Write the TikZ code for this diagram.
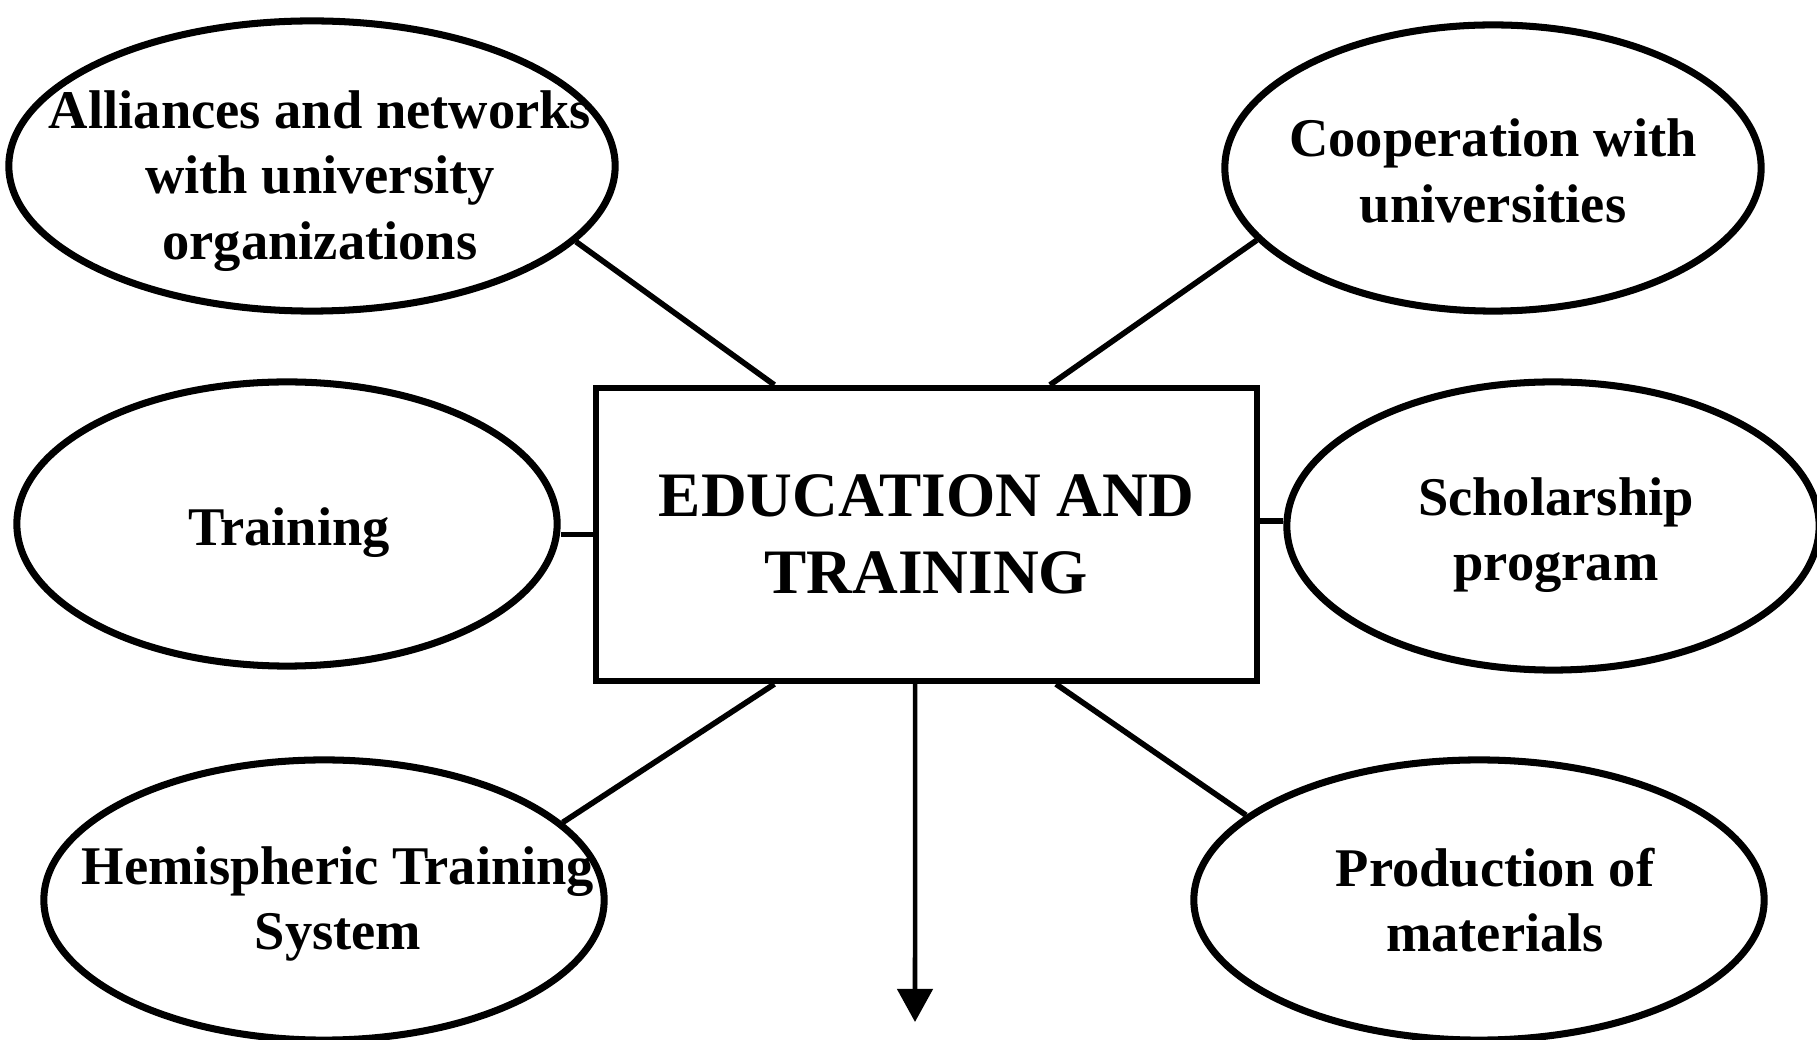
\documentclass[tikz,border=0pt]{standalone}
\usepackage{fontspec}
\setmainfont{Liberation Serif}
\usetikzlibrary{shapes.geometric,arrows.meta,calc}
\tikzset{
  bubble/.style={ellipse, draw, line width=2pt, inner sep=0pt},
  bubtext/.style={align=center, inner sep=0pt, font=\fontsize{15.5}{18.7}\selectfont\bfseries},
  hub/.style={draw, line width=1.7pt, minimum width=6.61cm, minimum height=2.93cm,
    align=center, font=\fontsize{18}{21.8}\selectfont\bfseries},
  link/.style={line width=1.6pt}
}
\begin{document}
\begin{tikzpicture}[x=0.01cm,y=-0.01cm]
\useasboundingbox (0,0) rectangle (1817,1040);
\clip (0,0) rectangle (1817,1040);
\node [hub] (box) at (926.5,534.5) {\rule{0pt}{4pt}EDUCATION AND\\TRAINING};
\node [bubble, minimum width=6.06cm, minimum height=2.90cm] (alli) at (312,166) {};
\node [bubble, minimum width=5.36cm, minimum height=2.86cm] (coop) at (1493,168) {};
\node [bubble, minimum width=5.40cm, minimum height=2.84cm] (trn) at (287,524) {};
\node [bubble, minimum width=5.32cm, minimum height=2.88cm] (schol) at (1553,526) {};
\node [bubble, minimum width=5.60cm, minimum height=2.80cm] (hemi) at (324,900) {};
\node [bubble, minimum width=5.70cm, minimum height=2.80cm] (prod) at (1479,900) {};
% texts of the ellipses
\node [bubtext] (alli-t) at ($(alli)+(8,15)$) {Alliances and networks\\with university\\organizations};
\node [bubtext] (coop-t) at ($(coop)+(0,3)$) {Cooperation with\\universities};
\node [bubtext] (trn-t) at ($(trn)+(2,9)$) {Training};
\node [bubtext] (schol-t) at ($(schol)+(3,9)$) {Scholarship\\program};
\node [bubtext] (hemi-t) at ($(hemi)+(14,4)$) {Hemispheric Training\\System};
\node [bubtext] (prod-t) at ($(prod)+(16,0)$) {Production of\\materials};
% points on the box
\coordinate (bnl) at ($(box.north west)!0.272!(box.north east)$);
\coordinate (bnr) at ($(box.north west)!0.685!(box.north east)$);
\coordinate (bsl) at ($(box.south west)!0.272!(box.south east)$);
\coordinate (bsr) at ($(box.south west)!0.694!(box.south east)$);
\coordinate (bsm) at ($(box.south west)!0.483!(box.south east)$);
\coordinate (be) at ($(box.north east)!0.454!(box.south east)$);
\coordinate (out) at (915,1022);
\draw [link] (bnl) -- (alli.-16);
\draw [link] (bnr) -- (coop.197);
\draw [link] (box.west) -- (trn.east |- box.west);
\draw [link] (be) -- (schol.west |- be);
\draw [link] (bsl) -- (hemi.18);
\draw [link] (bsr) -- (prod.160.6);
\draw [line width=1.3pt, -{Triangle[width=0.35cm,length=0.33cm]}] (bsm) -- (out);
\end{tikzpicture}
\end{document}
